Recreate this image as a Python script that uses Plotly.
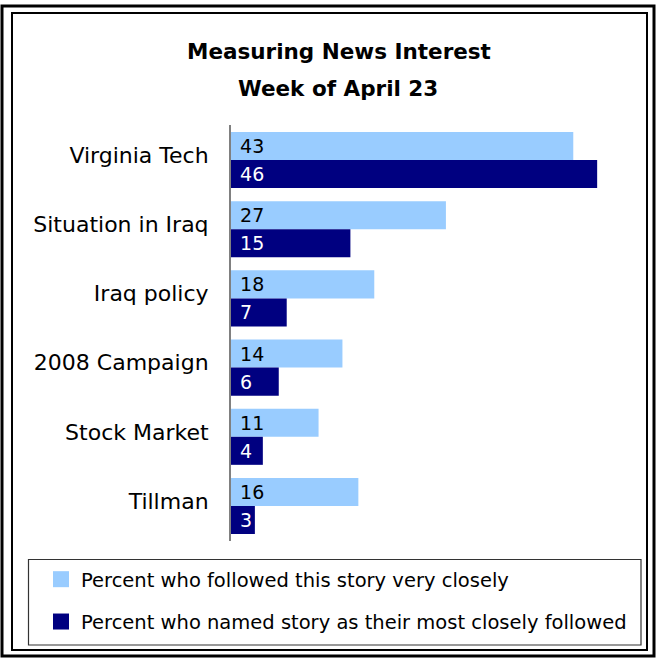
import plotly.graph_objects as go

# ---- data ----
categories = ["Virginia Tech", "Situation in Iraq", "Iraq policy",
              "2008 Campaign", "Stock Market", "Tillman"]
followed_very_closely = [43, 27, 18, 14, 11, 16]
most_closely_followed = [46, 15, 7, 6, 4, 3]
series_names = ["Percent who followed this story very closely",
                "Percent who named story as their most closely followed"]
title_lines = ["Measuring News Interest", "Week of April 23"]

W, H = 656, 658


def px(x):
    return x / W


def py(y):
    return 1 - y / H


LIGHT = "#99CCFF"
DARK = "#000080"
FONT = "DejaVu Sans"

fig = go.Figure()
for vals, col, tcol in [(followed_very_closely, LIGHT, "black"),
                        (most_closely_followed, DARK, "white")]:
    fig.add_trace(go.Bar(
        y=categories, x=vals, orientation="h",
        marker=dict(color=col, line=dict(width=0)),
        texttemplate="\u00a0%{x}", textposition="inside",
        insidetextanchor="start", textangle=0, constraintext="none",
        insidetextfont=dict(family=FONT, size=19, color=tcol),
        showlegend=False, hoverinfo="skip"))

# legend entries
for name, col, grp in [(series_names[0], LIGHT, "a"), (series_names[1], DARK, "b")]:
    fig.add_trace(go.Scatter(
        x=[None], y=[None], mode="markers", name=name, legendgroup=grp,
        marker=dict(symbol="square", size=16, color=col, line=dict(width=0)),
        showlegend=True))

scale = 7.96
fig.update_layout(
    width=W, height=H,
    margin=dict(l=0, r=0, t=0, b=0),
    paper_bgcolor="white", plot_bgcolor="white",
    barmode="group", bargap=0.19, bargroupgap=0,
    font=dict(family=FONT, color="black"),
    xaxis=dict(domain=[px(231), px(640)], range=[0, (640 - 231) / scale],
               visible=False, fixedrange=True),
    yaxis=dict(domain=[py(540.6), py(125.4)], autorange="reversed",
               categoryorder="array", categoryarray=categories,
               showline=True, linecolor="#808080", linewidth=2,
               ticks="", showgrid=False, zeroline=False, fixedrange=True,
               tickfont=dict(family=FONT, size=22, color="black"),
               ticklabelstandoff=16, ticklabelshift=5),
    showlegend=True,
    legend=dict(x=px(41), y=py(560), xanchor="left", yanchor="top",
                bgcolor="rgba(0,0,0,0)", borderwidth=0,
                font=dict(family=FONT, size=19.5, color="black"),
                tracegroupgap=14, itemclick=False, itemdoubleclick=False),
    annotations=[
        dict(text="<b>" + title_lines[0] + "</b>", x=px(339), y=py(51),
             xref="paper", yref="paper",
             xanchor="center", yanchor="middle", showarrow=False,
             font=dict(family=FONT, size=21.5, color="black")),
        dict(text="<b>" + title_lines[1] + "</b>", x=px(338), y=py(88.5),
             xref="paper", yref="paper",
             xanchor="center", yanchor="middle", showarrow=False,
             font=dict(family=FONT, size=21.5, color="black")),
    ],
    shapes=[
        dict(type="rect", xref="paper", yref="paper",
             x0=px(2), x1=px(654), y0=py(656), y1=py(6),
             line=dict(color="black", width=3)),
        dict(type="rect", xref="paper", yref="paper",
             x0=px(12), x1=px(647), y0=py(650), y1=py(13),
             line=dict(color="black", width=2)),
        dict(type="rect", xref="paper", yref="paper",
             x0=px(28.5), x1=px(641), y0=py(645), y1=py(559.5),
             line=dict(color="#333333", width=1.2)),
    ],
)

fig.write_html("out.html",
               config={"displayModeBar": False, "staticPlot": True},
               post_script="document.body.style.margin='0';document.body.style.overflow='hidden';")
